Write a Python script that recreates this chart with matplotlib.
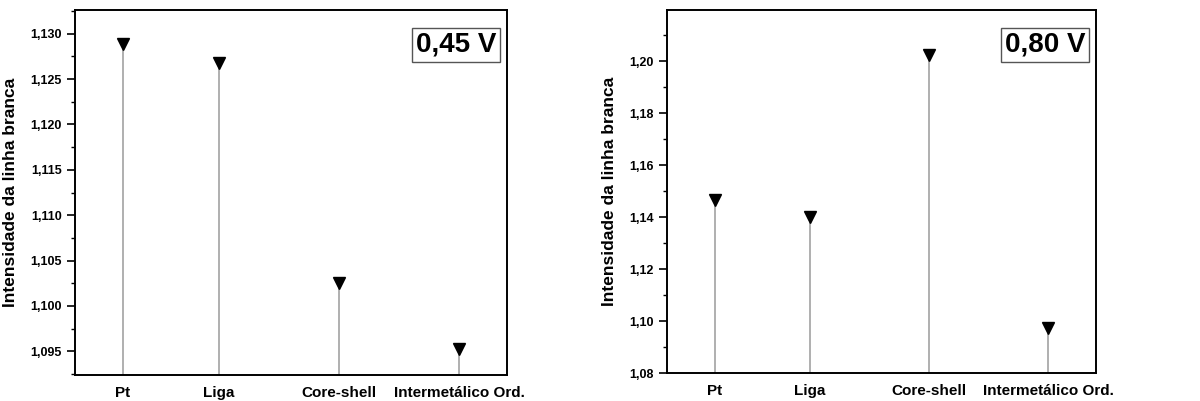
import matplotlib
matplotlib.use('Agg')
import matplotlib.pyplot as plt
from matplotlib.ticker import MultipleLocator, FuncFormatter

plt.rcParams['font.family'] = ['Liberation Sans', 'DejaVu Sans']
plt.rcParams['font.weight'] = 'bold'

categorias = ['Pt', 'Liga', 'Core-shell', 'Intermetálico Ord.']
posicoes = [1.0, 1.8, 2.8, 3.8]
valores_045 = [1.1289, 1.1268, 1.1025, 1.0953]
valores_080 = [1.1467, 1.1401, 1.2023, 1.0972]


def painel(ax, valores, ylim, major, minor, ndec, rotulo):
    ax.vlines(posicoes, ylim[0], valores, color='#9a9a9a', lw=1.1, zorder=1)
    ax.plot(posicoes, valores, 'v', color='black', ms=9, zorder=2)
    ax.set_xlim(0.6, 4.2)
    ax.set_ylim(*ylim)
    ax.set_xticks(posicoes)
    ax.set_xticklabels(categorias, fontsize=11, fontweight='bold')
    ax.tick_params(axis='x', length=0, pad=8)
    ax.yaxis.set_major_locator(MultipleLocator(major))
    ax.yaxis.set_minor_locator(MultipleLocator(minor))
    ax.yaxis.set_major_formatter(FuncFormatter(lambda v, p: ('%.*f' % (ndec, v)).replace('.', ',')))
    ax.tick_params(axis='y', which='major', length=6, width=1.2, labelsize=9, direction='out')
    ax.tick_params(axis='y', which='minor', length=3, width=1.0, direction='out')
    for s in ax.spines.values():
        s.set_linewidth(1.4)
    ax.set_ylabel('Intensidade da linha branca', fontsize=12.5, fontweight='bold', labelpad=9)
    ax.text(0.975, 0.94, rotulo, transform=ax.transAxes, ha='right', va='top',
            fontsize=20, fontweight='bold',
            bbox=dict(boxstyle='square,pad=0.15', fc='white', ec='#555555', lw=1))


fig = plt.figure(figsize=(12, 4.01), dpi=100)
ax1 = fig.add_axes([75 / 1200, 26 / 401, 432 / 1200, 365 / 401])
ax2 = fig.add_axes([667 / 1200, 28 / 401, 429 / 1200, 363 / 401])

painel(ax1, valores_045, (1.0924, 1.1326), 0.005, 0.0025, 3, '0,45 V')
painel(ax2, valores_080, (1.08, 1.2198), 0.02, 0.01, 2, '0,80 V')

fig.savefig('out.png', dpi=100)
